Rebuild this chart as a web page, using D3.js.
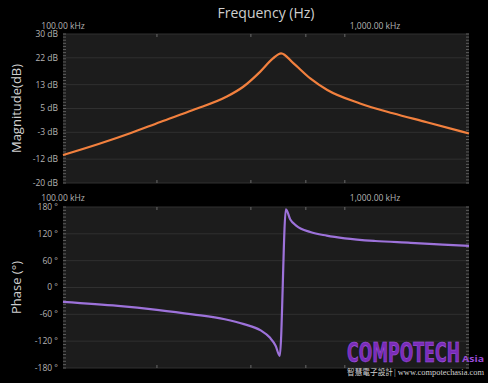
<!DOCTYPE html>
<html>
<head>
<meta charset="utf-8">
<script src="https://cdn.jsdelivr.net/npm/d3@7"></script>
<style>
  html, body { margin: 0; padding: 0; background: #000; }
  svg { display: block; }
</style>
</head>
<body>
<svg id="chart"></svg>
<script>
// frequency in kHz
const magFreq = [100, 130, 165, 205, 261, 335, 378, 428, 471, 500, 547, 620, 703, 895, 1140, 1465, 1874, 2000];
const magDb   = [-10.6, -6.9, -3.2, 0.5, 4.5, 9.0, 12.3, 17.3, 21.8, 23.5, 20.2, 15.1, 11.2, 6.7, 3.4, 0.4, -2.6, -3.4];

const phaseFreq = [100, 150, 200, 260, 330, 380, 430, 460, 480, 495, 518, 535, 560, 620, 700, 800, 1000, 1300, 1650, 2000];
const phaseDeg  = [-32, -41, -50, -60, -71, -82, -96, -112, -130, -153, 175, 152, 138, 124, 116, 110, 104, 100, 96, 93];

const magTicks = [30, 22, 13, 5, -3, -12, -20];
const phaseTicks = [180, 120, 60, 0, -60, -120, -180];
const freqMinorTicks = [200, 400, 600, 800];
const freqLabels = [100, 1000];

const width = 488, height = 383;
const svg = d3.select("#chart").attr("width", width).attr("height", height)
    .style("font-family", "'Open Sans', 'DejaVu Sans', sans-serif");

svg.append("rect").attr("width", width).attr("height", height).attr("fill", "#000");

const left = 63, right = 469;
const x = d3.scaleLog().domain([100, 2000]).range([left, right]);

const fmtKHz = d => d3.format(",.2f")(d) + " kHz";

svg.append("text")
    .attr("x", 266).attr("y", 18)
    .attr("text-anchor", "middle")
    .attr("fill", "#cfcfcf")
    .style("font-size", "14px")
    .text("Frequency (Hz)");

function drawPanel(opts) {
    const y = d3.scaleLinear().domain(opts.domain).range([opts.bottom, opts.top]);
    const g = svg.append("g");

    g.append("rect")
        .attr("x", left).attr("y", opts.top)
        .attr("width", right - left).attr("height", opts.bottom - opts.top)
        .attr("fill", "#1c1c1c");

    // horizontal grid lines
    g.selectAll("line.grid")
        .data(opts.ticks)
        .enter().append("line")
        .attr("class", "grid")
        .attr("x1", left).attr("x2", right)
        .attr("y1", d => y(d)).attr("y2", d => y(d))
        .attr("stroke", "#303030")
        .attr("stroke-width", 1);

    // minor ticks on left and right edges
    const step = (opts.domain[1] - opts.domain[0]) / 48;
    const minor = d3.range(0, 49).map(i => opts.domain[0] + i * step);
    [[left, left + 3], [right - 3, right]].forEach(([a, b]) => {
        g.append("g").selectAll("line")
            .data(minor)
            .enter().append("line")
            .attr("x1", a).attr("x2", b)
            .attr("y1", d => y(d)).attr("y2", d => y(d))
            .attr("stroke", "#7a7a7a")
            .attr("stroke-width", 0.7);
    });

    // frequency ticks at top and bottom edges
    [[opts.top, opts.top + 3], [opts.bottom - 3, opts.bottom]].forEach(([a, b]) => {
        g.append("g").selectAll("line")
            .data(freqMinorTicks)
            .enter().append("line")
            .attr("x1", d => x(d)).attr("x2", d => x(d))
            .attr("y1", a).attr("y2", b)
            .attr("stroke", "#6a6a6a")
            .attr("stroke-width", 1);
    });

    // y tick labels
    g.selectAll("text.ylab")
        .data(opts.ticks)
        .enter().append("text")
        .attr("class", "ylab")
        .attr("x", 58).attr("y", d => y(d))
        .attr("dy", "0.35em")
        .attr("text-anchor", "end")
        .attr("fill", "#b4b4b4")
        .style("font-size", "8.5px")
        .text(opts.fmt);

    // frequency labels above panel
    g.selectAll("text.xlab")
        .data(freqLabels)
        .enter().append("text")
        .attr("class", "xlab")
        .attr("x", d => x(d)).attr("y", opts.top - opts.labelGap)
        .attr("text-anchor", "middle")
        .attr("fill", "#b4b4b4")
        .style("font-size", "8.5px")
        .text(fmtKHz);

    // axis title
    g.append("text")
        .attr("transform", `translate(21,${(opts.top + opts.bottom) / 2}) rotate(-90)`)
        .attr("text-anchor", "middle")
        .attr("fill", "#cfcfcf")
        .style("font-size", "13px")
        .text(opts.title);

    const line = d3.line()
        .x(d => x(d[0]))
        .y(d => y(d[1]))
        .curve(d3.curveMonotoneX);

    g.append("path")
        .datum(d3.zip(opts.freq, opts.values))
        .attr("d", line)
        .attr("fill", "none")
        .attr("stroke", opts.color)
        .attr("stroke-width", 2.2)
        .attr("stroke-linejoin", "round");
}

drawPanel({
    top: 34, bottom: 183, domain: [-20, 30], ticks: magTicks, labelGap: 5.5,
    fmt: d => d + " dB", title: "Magnitude(dB)",
    freq: magFreq, values: magDb, color: "#f2803e"
});

drawPanel({
    top: 207, bottom: 368, domain: [-180, 180], ticks: phaseTicks, labelGap: 6.5,
    fmt: d => d + " °", title: "Phase (°)",
    freq: phaseFreq, values: phaseDeg, color: "#9d72da"
});

// watermark
const wm = svg.append("g");
wm.append("text")
    .attr("x", 347).attr("y", 362)
    .attr("textLength", 113).attr("lengthAdjust", "spacingAndGlyphs")
    .attr("fill", "#7a2cb8")
    .attr("stroke", "#a65ae0").attr("stroke-width", 0.6)
    .style("font-family", "'DejaVu Sans Condensed', 'DejaVu Sans', sans-serif")
    .style("font-weight", "bold")
    .style("font-size", "27px")
    .text("COMPOTECH");
wm.append("text")
    .attr("x", 462).attr("y", 362)
    .attr("textLength", 22).attr("lengthAdjust", "spacingAndGlyphs")
    .attr("fill", "#9a4ad8")
    .style("font-weight", "bold")
    .style("font-size", "8px")
    .text("Asia");
wm.append("text")
    .attr("x", 347).attr("y", 375)
    .attr("textLength", 46).attr("lengthAdjust", "spacingAndGlyphs")
    .attr("fill", "#d0d0d0")
    .style("font-family", "'Noto Sans CJK TC', sans-serif")
    .style("font-size", "8.5px")
    .text("智慧電子設計");
wm.append("text")
    .attr("x", 394).attr("y", 375)
    .attr("textLength", 90).attr("lengthAdjust", "spacingAndGlyphs")
    .attr("fill", "#d0d0d0")
    .style("font-family", "'Liberation Serif', serif")
    .style("font-size", "8.5px")
    .text("| www.compotechasia.com");
</script>
</body>
</html>
